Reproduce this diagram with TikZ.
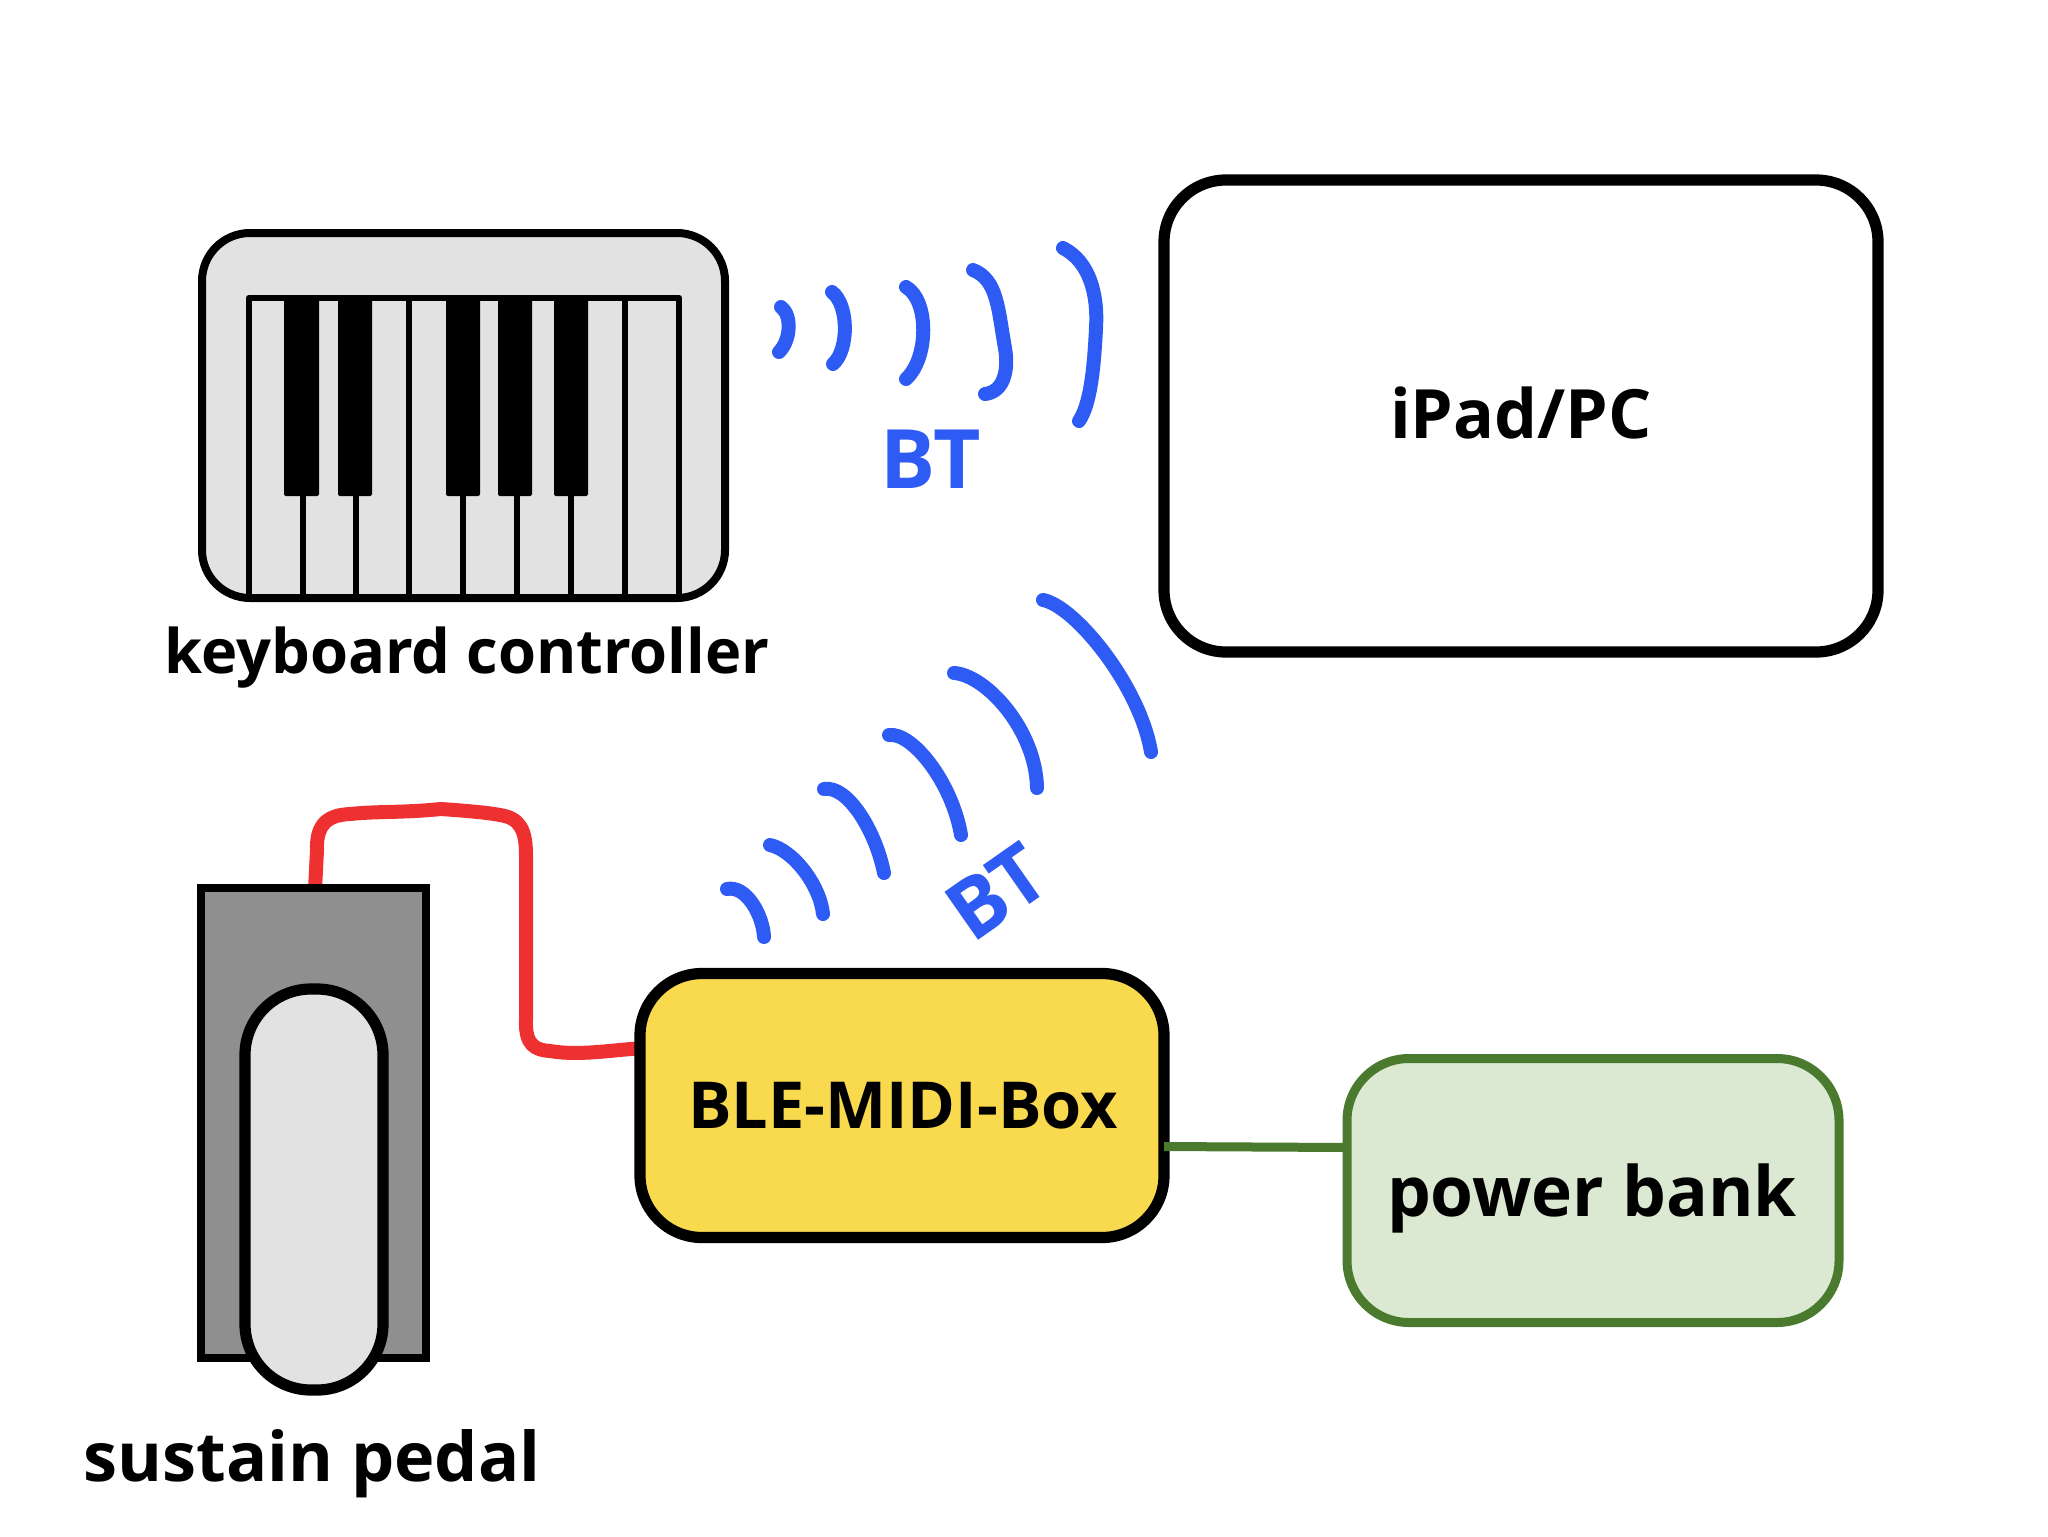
\documentclass[tikz,border=0pt]{standalone}
\usepackage{fontspec}
\setmainfont{Open Sans}
\definecolor{btblue}{HTML}{2F5BF5}
\definecolor{wirered}{HTML}{EE3030}
\definecolor{boxyellow}{HTML}{F9D94E}
\definecolor{bankgreen}{HTML}{DCE9D2}
\definecolor{linegreen}{HTML}{4A7A2E}
\definecolor{lightgrey}{HTML}{E2E2E2}
\definecolor{midgrey}{HTML}{8F8F8F}
\tikzset{
  box/.style={draw=black,line width=5.6pt,rounded corners=31pt,outer sep=0pt,inner sep=0pt,align=center},
  txt/.style={font=\bfseries\fontsize{#1pt}{#1pt}\selectfont,inner sep=0pt,outer sep=0pt,anchor=base,text=black},
  wave/.style={draw=btblue,line width=7pt,line cap=round,line join=round},
  btlabel/.style={font=\bfseries\fontsize{41pt}{44pt}\selectfont,text=btblue,inner sep=0pt,outer sep=0pt},
  blackkey/.style={fill=black,rounded corners=1pt},
  keyline/.style={draw=black,line width=2.8pt},
}
\begin{document}
\begin{tikzpicture}[x=0.5pt,y=-0.5pt]
\useasboundingbox (0,0) rectangle (2048,1536);
% keyboard
\node[box,fill=lightgrey,line width=4pt,rounded corners=24pt,minimum width=261.5pt,minimum height=182.5pt] (kbd) at (463.5,415.5) {};
\foreach \x in {303,356,409,463,517,571,625}{\draw[keyline] (\x,298) -- (\x,597);}
\draw[keyline,line width=3.4pt,line join=round] (249,597) -- (249,298) -- (679,298) -- (679,597) -- cycle;
\foreach \a/\b in {284/319,338/372,446/480,498/532,554/588}{\fill[blackkey] (\a,298) rectangle (\b,496);}
\node[txt=30.7] (kbdl) at (467,673) {keyboard controller};
% iPad
\node[box,fill=white,minimum width=357pt,minimum height=236pt] (ipad) at (1521,416) {};
\node[txt=34] (ipadl) at (1521,438) {iPad/PC};
% waves 1
\draw[wave] (781,307) .. controls (792,315) and (791,340) .. (779,352);
\draw[wave] (832,292) .. controls (849,305) and (849,350) .. (833,364);
\draw[wave] (906,287) .. controls (929,300) and (929,358) .. (906,379);
\draw[wave] (973,270) .. controls (998,280) and (998,310) .. (1005,348) .. controls (1009,372) and (1003,392) .. (985,394);
\draw[wave] (1063,248) .. controls (1090,262) and (1098,295) .. (1096,328) .. controls (1094,370) and (1090,405) .. (1079,421);
\node[btlabel,anchor=base] (bt1) at (931,488) {BT};
% waves 2
\draw[wave] (727,889) .. controls (746,885) and (763,915) .. (764,937);
\draw[wave] (770,845) .. controls (793,850) and (820,885) .. (823,914);
\draw[wave] (824,789) .. controls (848,785) and (876,832) .. (884,873);
\draw[wave] (889,735) .. controls (912,732) and (952,782) .. (961,835);
\draw[wave] (954,673) .. controls (986,675) and (1036,730) .. (1037,788);
\draw[wave] (1043,600) .. controls (1075,606) and (1140,686) .. (1151,752);
\node[btlabel,rotate=35] (bt2) at (997,892) {BT};
% red wire
\coordinate (wirea) at (315,890);
\coordinate (wireb) at (645,1048);
\draw[wirered,line width=7pt,line join=round] (wirea) -- (317,850) .. controls (316,822) and (330,815) .. (350,814) .. controls (380,811) and (400,813) .. (441,809) .. controls (470,811) and (490,813) .. (500,815) .. controls (520,818) and (526,830) .. (526,855) -- (526,1020) .. controls (525,1045) and (535,1050) .. (550,1051) .. controls (580,1056) and (610,1050) .. (wireb);
% BLE box
\node[box,fill=boxyellow,minimum width=262pt,minimum height=132pt] (ble) at (902,1105.5) {};
\node[txt=32.4] (blel) at (903,1128.5) {BLE-MIDI-Box};
% power bank
\node[box,draw=linegreen,fill=bankgreen,line width=4.5pt,minimum width=246pt,minimum height=132pt] (bank) at (1593,1190.5) {};
\node[txt=34.7] (bankl) at (1592,1216) {power bank};
\draw[linegreen,line width=4.5pt] ([yshift=-20.5pt]ble.east) -- ([yshift=-21pt]ble.east -| bank.west);
% pedal
\node[draw=black,fill=midgrey,line width=4.4pt,outer sep=0pt,inner sep=0pt,minimum width=112.5pt,minimum height=235pt] (pedal) at (313.5,1123) {};
\node[box,fill=lightgrey,line width=5.6pt,rounded corners=33pt,minimum width=69pt,minimum height=200.5pt] (foot) at (314,1189.5) {};
\node[txt=34.2] (pedall) at (312,1481) {sustain pedal};
\end{tikzpicture}
\end{document}
